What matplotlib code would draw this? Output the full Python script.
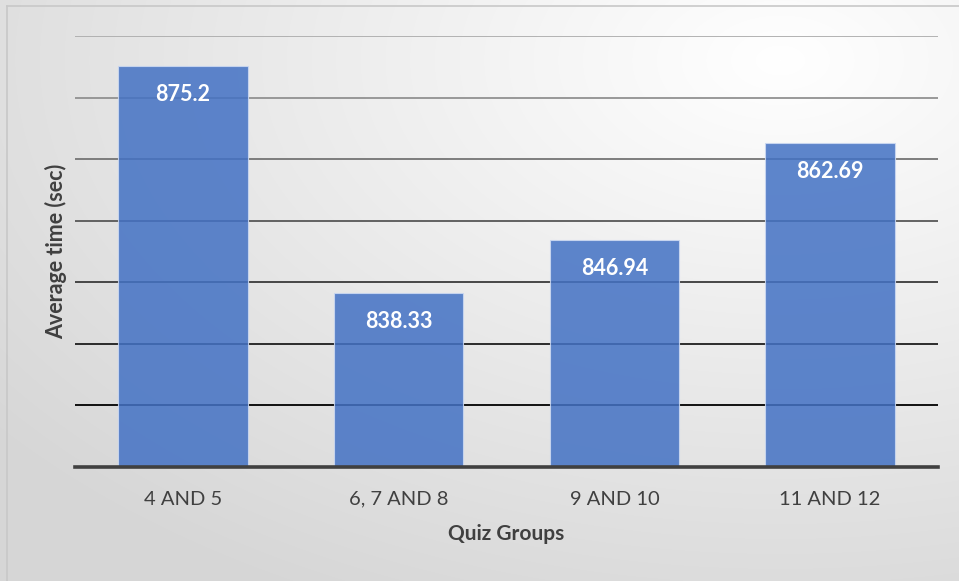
import numpy as np
import matplotlib.pyplot as plt
from matplotlib.lines import Line2D

# data
groups = ["4 AND 5", "6, 7 AND 8", "9 AND 10", "11 AND 12"]
avg_time = [875.2, 838.33, 846.94, 862.69]
value_labels = ["875.2", "838.33", "846.94", "862.69"]

plt.rcParams['font.family'] = ['Lato', 'DejaVu Sans']

fig = plt.figure(figsize=(9.59, 5.81), dpi=100)

# gradient backdrop (white top-right, grey bottom-left)
bg = fig.add_axes([0, 0, 1, 1], zorder=-10)
h, w = 581, 959
yy, xx = np.mgrid[0:h, 0:w]
d = np.sqrt(((xx - 780) / w) ** 2 + ((yy - 60) / h) ** 2)
d = np.clip(d / 1.05, 0, 1)
shade = 1.0 - 0.16 * d
img = np.dstack([shade, shade, shade])
bg.imshow(img, aspect='auto', extent=[0, 1, 0, 1], origin='upper')
bg.axis('off')

# thin border round the chart area
fig.add_artist(Line2D([7/w, 7/w], [0, 1 - 6/h], color="#c8c8c8", lw=1.2))
fig.add_artist(Line2D([7/w, 1], [1 - 6/h, 1 - 6/h], color="#c8c8c8", lw=1.2))

ax = fig.add_axes([75/w, 1 - 467/h, (938 - 75)/w, (467 - 36)/h])
ax.patch.set_alpha(0)

ymin, ymax, step = 810, 880, 10
ax.set_ylim(ymin, ymax)
ax.set_xlim(-0.5, len(groups) - 0.5)

# gridlines go from grey at top to black toward the bottom
levels = np.arange(ymin + step, ymax + 1, step)
for lv in levels:
    t = (lv - levels[0]) / (levels[-1] - levels[0])
    c = 0.0 + 0.68 * t
    ax.axhline(lv, color=(c, c, c), lw=1.3, zorder=1)
ax.axhline(ymin, color="#404040", lw=2.6, zorder=4, clip_on=False)

x = np.arange(len(groups))
bars = ax.bar(x, avg_time, 0.6, bottom=0, color="#4472C4", alpha=0.86,
              edgecolor=(0.8, 0.85, 0.95, 0.6), linewidth=0.8, zorder=3)

for xi, v, lab in zip(x, avg_time, value_labels):
    ax.annotate(lab, (xi, v), xytext=(0, -21), textcoords="offset points",
                ha="center", va="center", color="white", fontsize=15.5,
                fontweight="bold", zorder=5)

ax.set_xticks(x)
ax.set_xticklabels(groups, fontsize=14.5, color="#404040")
ax.tick_params(axis="x", length=0, pad=17)
ax.set_yticks([])
for s in ax.spines.values():
    s.set_visible(False)

ax.set_xlabel("Quiz Groups", fontsize=15, fontweight="bold", color="#404040", labelpad=12)
ax.set_ylabel("Average time (sec)", fontsize=15.5, fontweight="bold", color="#404040", labelpad=6)

fig.savefig("out.png", dpi=100)
